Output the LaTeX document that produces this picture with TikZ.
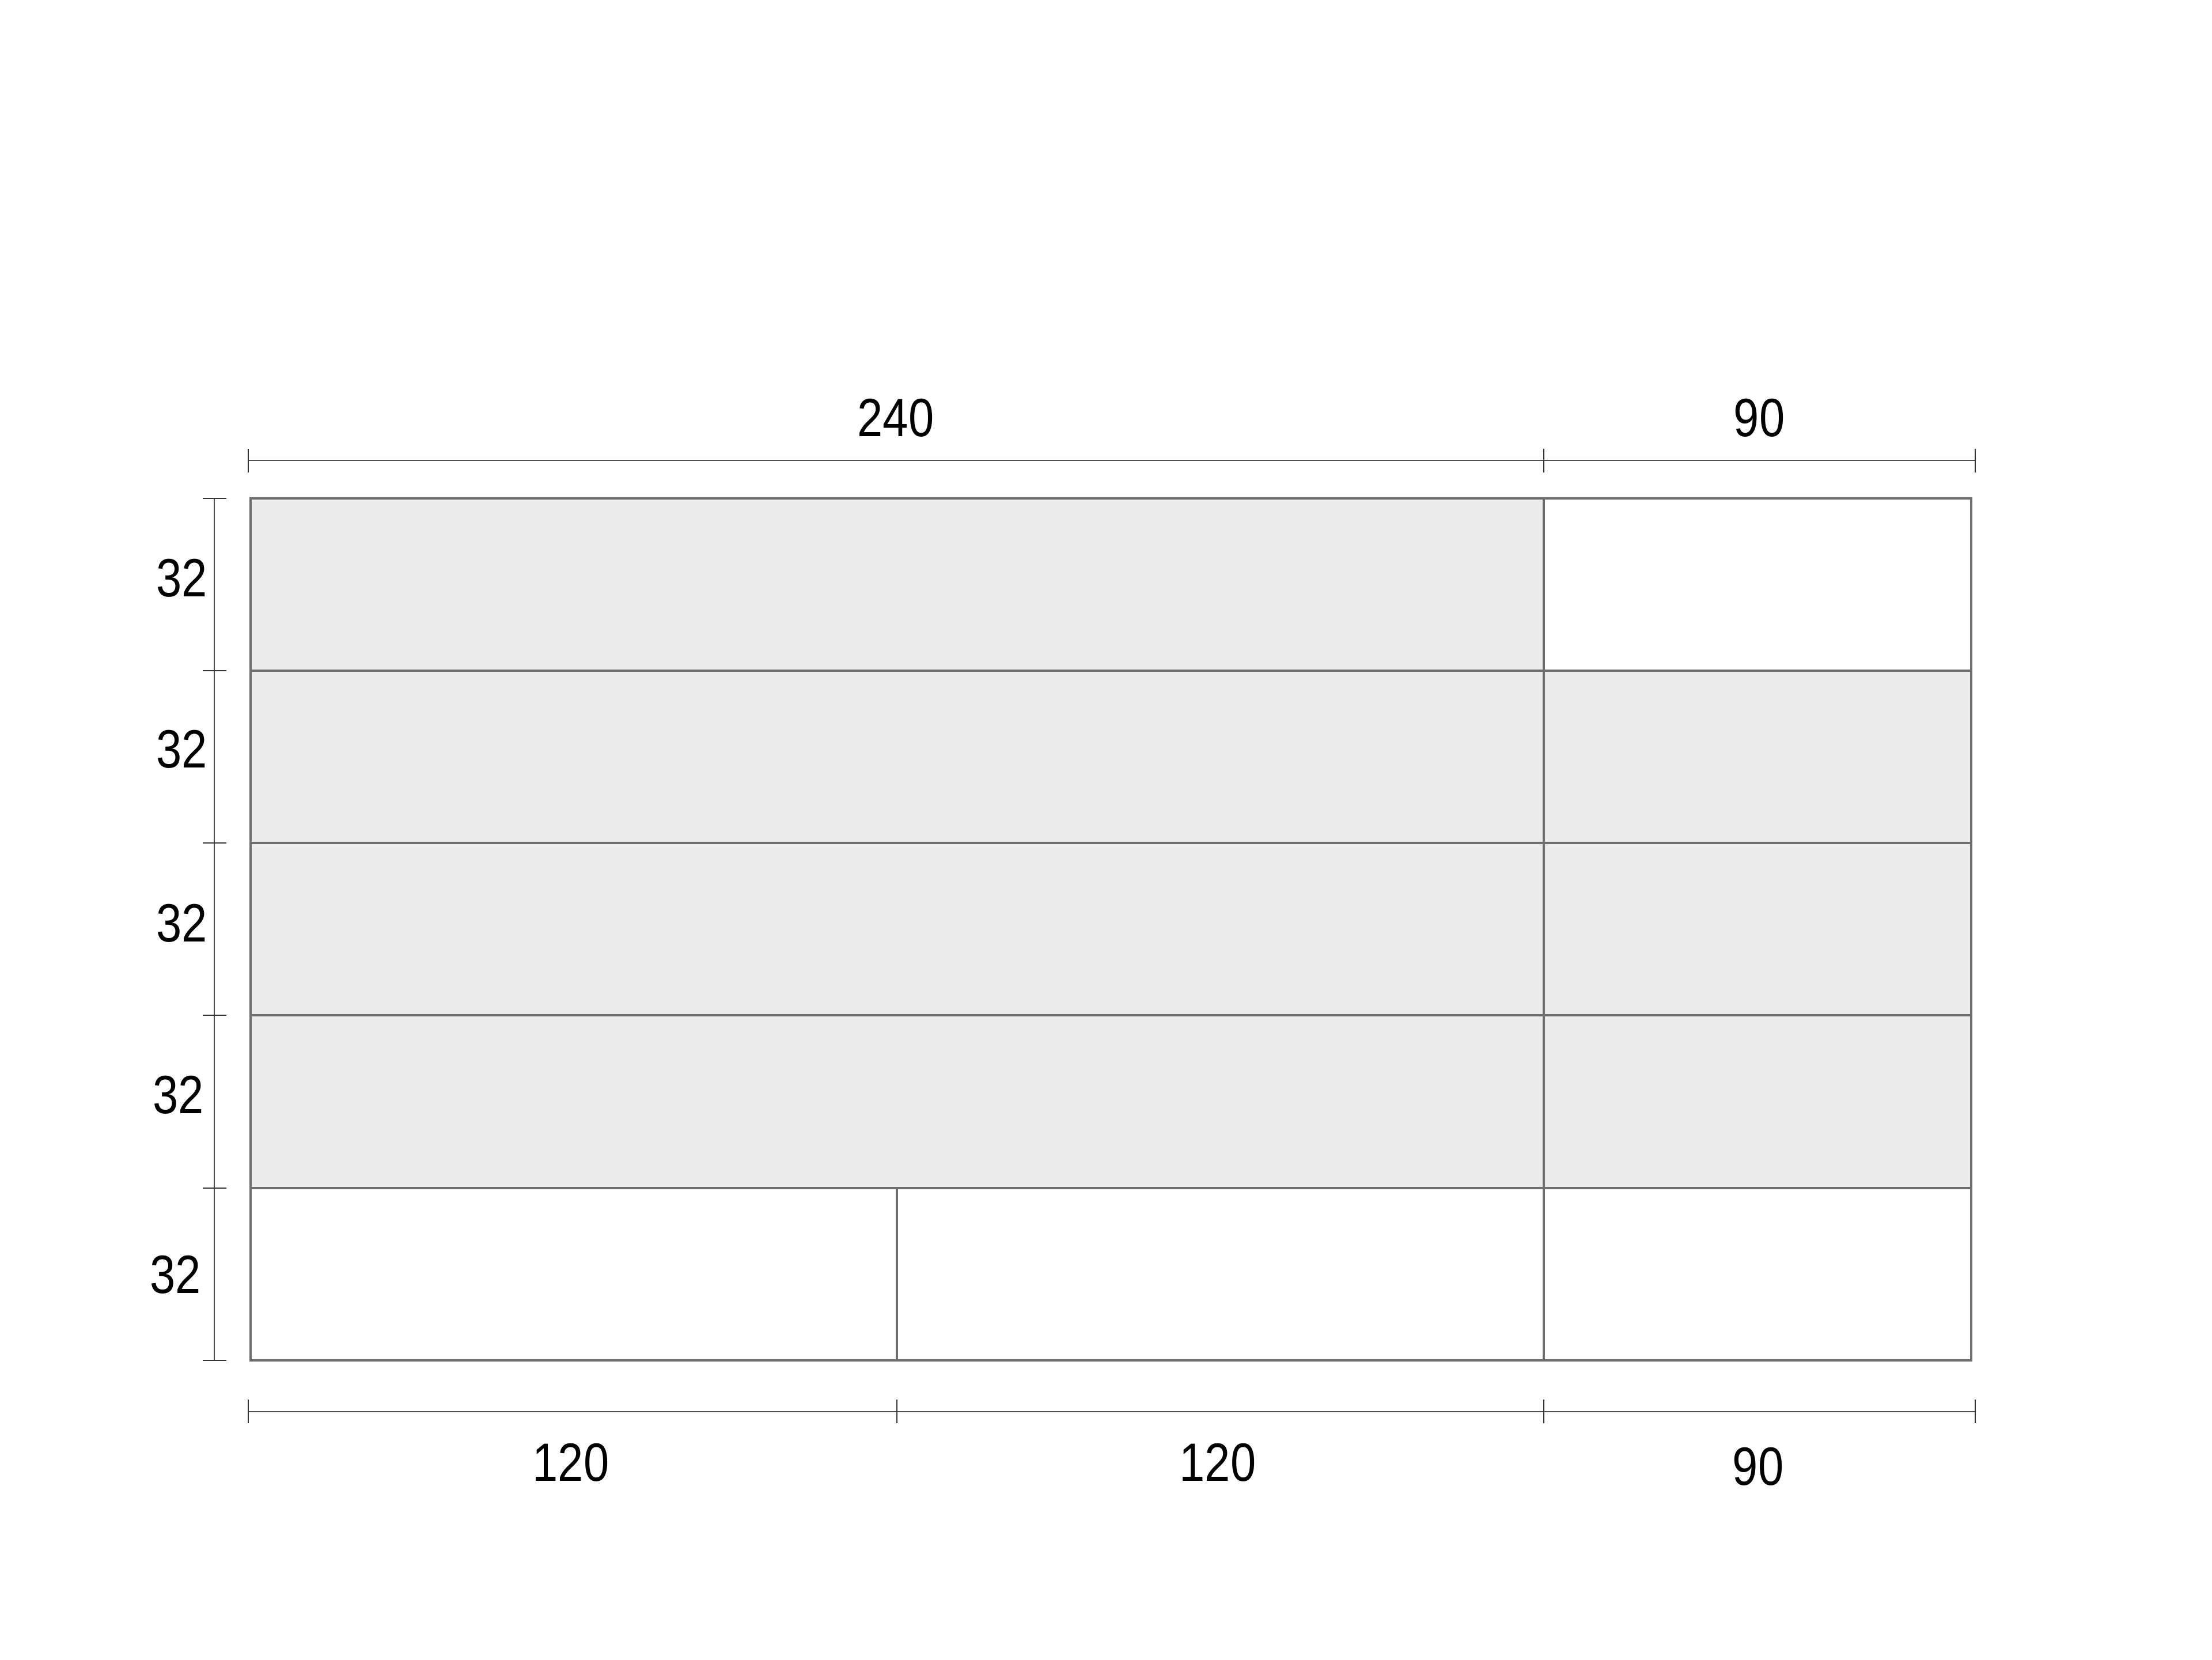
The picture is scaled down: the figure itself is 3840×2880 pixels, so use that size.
\documentclass[tikz,border=0pt]{standalone}
\usepackage{fontspec}
\newfontfamily\dimfont[FakeStretch=0.85]{Liberation Sans}
\definecolor{panelgray}{HTML}{ECECEC}
\definecolor{edgegray}{HTML}{6E6E6E}
\definecolor{dimgray}{HTML}{505050}
\begin{document}
\begin{tikzpicture}[x=0.01cm,y=-0.01cm,
  panel/.style={draw=edgegray, line width=0.9pt, fill=white},
  filledpanel/.style={panel, fill=panelgray},
  dimline/.style={draw=dimgray, line width=0.6pt},
  dimtick/.style={draw=black!80, line width=0.5pt},
  dimtext/.style={font=\dimfont\fontsize{26.6}{30}\selectfont, inner sep=0pt, text=black}]
\useasboundingbox (0,0) rectangle (3840,2880);
% panels
\draw[filledpanel] (435,865) rectangle (2680,1164);
\draw[filledpanel] (435,1164) rectangle (2680,1463);
\draw[filledpanel] (435,1463) rectangle (2680,1762);
\draw[filledpanel] (435,1762) rectangle (2680,2062);
\draw[panel] (2680,865) rectangle (3422,1164);
\draw[filledpanel] (2680,1164) rectangle (3422,1463);
\draw[filledpanel] (2680,1463) rectangle (3422,1762);
\draw[filledpanel] (2680,1762) rectangle (3422,2062);
\draw[panel] (435,2062) rectangle (1557,2361);
\draw[panel] (1557,2062) rectangle (2680,2361);
\draw[panel] (2680,2062) rectangle (3422,2361);
% top dimension
\coordinate (t1) at (431,799);
\coordinate (t2) at (2680,799);
\coordinate (t3) at (3429,799);
\draw[dimline] (t1) -- (t3);
\foreach \p in {t1,t2,t3} \draw[dimtick] ([yshift=0.2cm]\p) -- ([yshift=-0.21cm]\p);
\node[dimtext] (l240) at (1555,725) {240};
\node[dimtext] (l90t) at (3054,725) {90};
% bottom dimension
\coordinate (b1) at (431,2450);
\coordinate (b2) at (1557,2450);
\coordinate (b3) at (2680,2450);
\coordinate (b4) at (3429,2450);
\draw[dimline] (b1) -- (b4);
\foreach \p in {b1,b2,b3,b4} \draw[dimtick] ([yshift=0.21cm]\p) -- ([yshift=-0.2cm]\p);
\node[dimtext] (l120a) at (991,2538) {120};
\node[dimtext] (l120b) at (2114,2538) {120};
\node[dimtext] (l90b) at (3052,2545) {90};
% left dimension
\coordinate (v0) at (372,865);
\coordinate (v1) at (372,1164);
\coordinate (v2) at (372,1463);
\coordinate (v3) at (372,1762);
\coordinate (v4) at (372,2062);
\coordinate (v5) at (372,2361);
\draw[dimline] (v0) -- (v5);
\foreach \p in {v0,v1,v2,v3,v4,v5} \draw[dimtick] ([xshift=-0.2cm]\p) -- ([xshift=0.21cm]\p);
\node[dimtext] (h1) at (316,1003) {32};
\node[dimtext] (h2) at (316,1300) {32};
\node[dimtext] (h3) at (316,1602) {32};
\node[dimtext] (h4) at (310,1900) {32};
\node[dimtext] (h5) at (305,2212) {32};
\end{tikzpicture}
\end{document}
